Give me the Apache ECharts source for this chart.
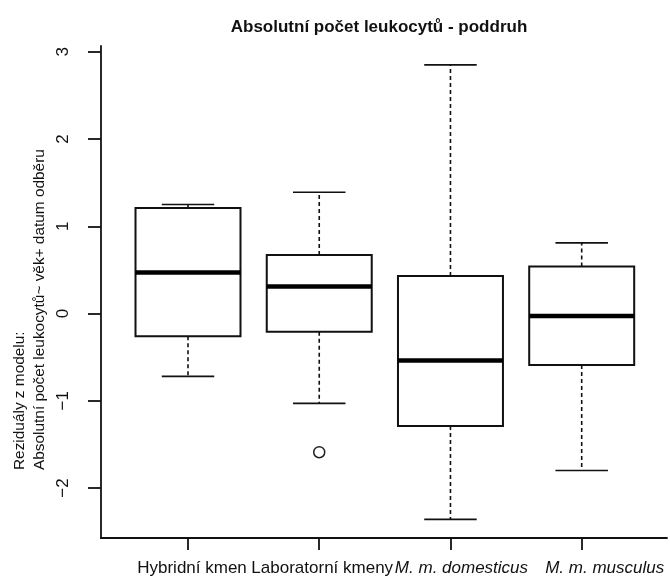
<!DOCTYPE html>
<html>
<head>
<meta charset="utf-8">
<script src="https://cdn.jsdelivr.net/npm/echarts@6/dist/echarts.min.js"></script>
<style>
  html, body { margin: 0; padding: 0; background: #ffffff; }
  #chart { width: 670px; height: 579px; }
</style>
</head>
<body>
<div id="chart"></div>
<script>
// Groups (poddruh) and their box statistics of the model residuals
const categories = ['Hybridní kmen', 'Laboratorní kmeny', 'M. m. domesticus', 'M. m. musculus'];
const italicCategory = [false, false, true, true];
const whiskerLow  = [-0.72, -1.03, -2.36, -1.80];
const quartile1   = [-0.26, -0.21, -1.29, -0.59];
const medians     = [ 0.47,  0.31, -0.54, -0.03];
const quartile3   = [ 1.21,  0.67,  0.43,  0.54];
const whiskerHigh = [ 1.25,  1.39,  2.85,  0.81];
// Outlying points: [group number, residual]
const outliers = [[2, -1.59]];
const yTicks = [-2, -1, 0, 1, 2, 3];
const groupTicks = [1, 2, 3, 4];

// Horizontal nudge (px) of each group label relative to its tick
const labelNudge = [4, 3, 11, 23];

const boxData = categories.map((c, i) => [
  i + 1, whiskerLow[i], quartile1[i], medians[i], quartile3[i], whiskerHigh[i]
]);

const INK = '#111111';
const LABEL_FONT = 17;

const groupLabelRich = {};
categories.forEach((c, i) => {
  groupLabelRich['g' + i] = {
    fontFamily: 'Liberation Sans',
    fontSize: LABEL_FONT,
    fontStyle: italicCategory[i] ? 'italic' : 'normal',
    color: '#111',
    padding: [0, 0, 0, labelNudge[i] * 2]
  };
});

function renderBox(params, api) {
  const x = api.value(0);
  const pLow = api.coord([x, api.value(1)]);
  const pQ1 = api.coord([x, api.value(2)]);
  const pMed = api.coord([x, api.value(3)]);
  const pQ3 = api.coord([x, api.value(4)]);
  const pHigh = api.coord([x, api.value(5)]);
  const halfBox = api.size([0.8, 0])[0] / 2;
  const halfCap = halfBox / 2;
  const cx = pMed[0];
  const dashed = { stroke: INK, lineWidth: 1.6, lineDash: [4, 3], fill: null };
  const solid = { stroke: INK, lineWidth: 1.6, fill: null };
  return {
    type: 'group',
    children: [
      { type: 'line', shape: { x1: cx, y1: pQ3[1], x2: cx, y2: pHigh[1] }, style: dashed },
      { type: 'line', shape: { x1: cx, y1: pQ1[1], x2: cx, y2: pLow[1] }, style: dashed },
      { type: 'line', shape: { x1: cx - halfCap, y1: pHigh[1], x2: cx + halfCap, y2: pHigh[1] }, style: solid },
      { type: 'line', shape: { x1: cx - halfCap, y1: pLow[1], x2: cx + halfCap, y2: pLow[1] }, style: solid },
      {
        type: 'rect',
        shape: { x: cx - halfBox, y: pQ3[1], width: halfBox * 2, height: pQ1[1] - pQ3[1] },
        style: { fill: '#ffffff', stroke: INK, lineWidth: 2 }
      },
      { type: 'line', shape: { x1: cx - halfBox, y1: pMed[1], x2: cx + halfBox, y2: pMed[1] }, style: { stroke: '#000', lineWidth: 4.5 } }
    ]
  };
}

const chart = echarts.init(document.getElementById('chart'), null, { renderer: 'canvas' });

chart.setOption({
  backgroundColor: '#ffffff',
  animation: false,
  title: {
    text: 'Absolutní počet leukocytů - poddruh',
    left: 379,
    textAlign: 'center',
    top: 19,
    padding: 0,
    textStyle: { fontFamily: 'Liberation Sans', fontSize: 17, fontWeight: 'bold', color: '#111' }
  },
  grid: { left: 101, right: 3, top: 46, bottom: 41, outerBoundsMode: 'none' },
  xAxis: {
    type: 'value',
    min: 0.337,
    max: 4.65,
    splitLine: { show: false },
    axisLine: { show: true, onZero: false, lineStyle: { color: INK, width: 1.8 } },
    axisTick: { show: true, customValues: groupTicks, length: 12, lineStyle: { color: INK, width: 1.8 } },
    axisLabel: {
      customValues: groupTicks,
      hideOverlap: false,
      showMinLabel: true,
      showMaxLabel: true,
      margin: 22,
      color: '#111',
      fontFamily: 'Liberation Sans',
      fontSize: LABEL_FONT,
      formatter: function (v) {
        const i = Math.round(v) - 1;
        return '{g' + i + '|' + categories[i] + '}';
      },
      rich: groupLabelRich
    }
  },
  yAxis: {
    type: 'value',
    min: -2.573,
    max: 3.066,
    splitLine: { show: false },
    axisLine: { show: true, onZero: false, lineStyle: { color: INK, width: 1.8 } },
    axisTick: { show: true, customValues: yTicks, length: 13, lineStyle: { color: INK, width: 1.8 } },
    axisLabel: {
      customValues: yTicks,
      rotate: 90,
      margin: 29,
      color: '#111',
      fontFamily: 'Liberation Sans',
      fontSize: 17,
      formatter: function (v) { return v < 0 ? '\u2212' + Math.abs(v) : String(v); }
    }
  },
  graphic: [{
    type: 'text',
    x: 30,
    y: 470,
    rotation: Math.PI / 2,
    style: {
      text: 'Reziduály z modelu:\nAbsolutní počet leukocytů~ věk+ datum odběru',
      align: 'left',
      verticalAlign: 'middle',
      lineHeight: 20,
      fontFamily: 'Liberation Sans',
      fontSize: 15.4,
      fill: '#111'
    }
  }],
  series: [
    {
      type: 'custom',
      renderItem: renderBox,
      encode: { x: 0, y: [1, 2, 3, 4, 5] },
      data: boxData,
      z: 2
    },
    {
      type: 'scatter',
      data: outliers,
      symbol: 'circle',
      symbolSize: 11,
      itemStyle: { color: '#ffffff', borderColor: '#222', borderWidth: 1.5, opacity: 1 },
      z: 3
    }
  ]
});
</script>
</body>
</html>
